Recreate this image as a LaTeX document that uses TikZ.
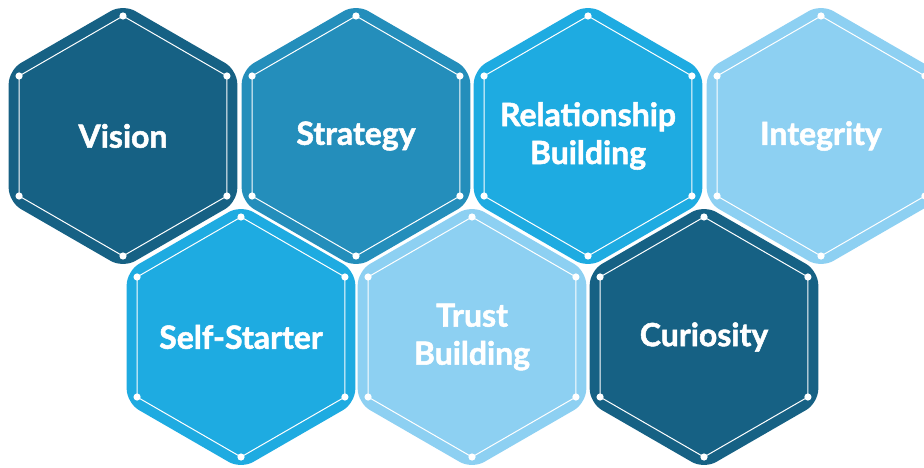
\documentclass[tikz,border=0pt]{standalone}
\usepackage{fontspec}
\setmainfont{Lato}[BoldFeatures={FakeBold=1.6}]
\usetikzlibrary{shapes.geometric}

\definecolor{hexdark}{HTML}{166184}
\definecolor{hexmid}{HTML}{248EBB}
\definecolor{hexbright}{HTML}{1EABE1}
\definecolor{hexlight}{HTML}{8DD0F2}

\begin{document}
\begin{tikzpicture}[x=1pt, y=-1pt,
    hexcell/.style={regular polygon, regular polygon sides=6, shape border rotate=30,
        minimum size=264pt, inner sep=0pt, rounded corners=14pt},
    hextext/.style={text=white, inner sep=0pt, align=center,
        font=\fontsize{32}{38}\selectfont\bfseries},
    hexline/.style={white, line width=1pt},
    hexdot/.style={fill=white}]
    \useasboundingbox (0,0) rectangle (924,468);
    \clip (0,0) rectangle (924,468);

    % top row
    \node[hexcell, fill=hexdark, label={[hextext]center:Vision}] (vision) at (123,136) {};
    \node[hexcell, fill=hexmid, label={[hextext]center:Strategy}] (strategy) at (356,136) {};
    \node[hexcell, fill=hexbright, label={[hextext]center:Relationship\\Building}] (relation) at (588,136) {};
    \node[hexcell, fill=hexlight, label={[hextext]center:Integrity}] (integrity) at (821,136) {};

    % bottom row
    \node[hexcell, fill=hexbright, label={[hextext]center:Self-Starter}] (starter) at (241,337) {};
    \node[hexcell, fill=hexlight, label={[hextext]center:Trust\\Building}] (trust) at (472,337) {};
    \node[hexcell, fill=hexdark, label={[hextext]center:Curiosity}] (curiosity) at (704,337) {};

    % inner outlines with dots
    \foreach \n in {vision,strategy,relation,integrity,starter,trust,curiosity} {
        \draw[hexline, shift={(\n.center)}] (30:120) -- (90:120) -- (150:120)
            -- (210:120) -- (270:120) -- (330:120) -- cycle;
        \foreach \a in {30,90,...,330}
            \path[hexdot, shift={(\n.center)}] (\a:120) circle (3.6pt);
    }
\end{tikzpicture}
\end{document}
